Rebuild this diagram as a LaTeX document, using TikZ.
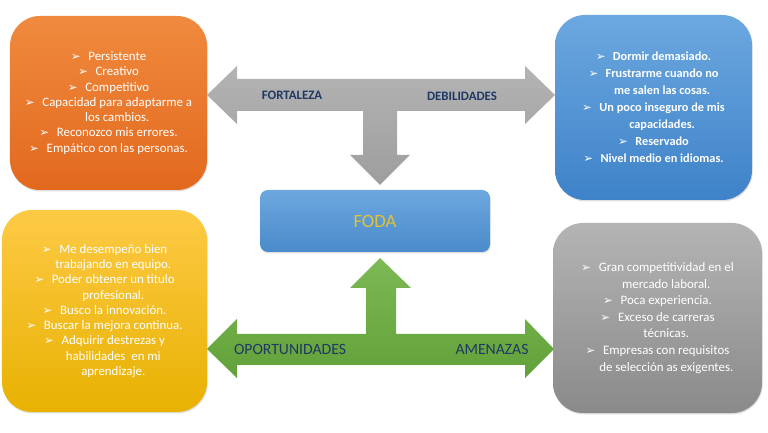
\documentclass[tikz,border=0pt]{standalone}
\usepackage{fontspec}
\setmainfont{Carlito}
\newfontfamily\dejavu{DejaVu Sans}
\usetikzlibrary{shadows}

\definecolor{navy}{HTML}{1F3864}
\definecolor{fodagold}{HTML}{E2C236}
\definecolor{arrowgray}{HTML}{A6A6A6}
\definecolor{greentop}{HTML}{7DB955}
\definecolor{greenbot}{HTML}{62A13A}
\newcommand{\bul}{{\dejavu\fontsize{10}{10}\selectfont ➢}\hspace{0.6em}}
\newcommand{\cont}{\hphantom{\bul}}

\begin{document}
\begin{tikzpicture}[x=0.03cm,y=0.03cm]
	\tikzset{box/.style={rounded corners=0.9cm, inner sep=0pt, text=white, align=center,
		font=\fontsize{11}{13}\selectfont,
		drop shadow={opacity=0.25, shadow xshift=0.6pt, shadow yshift=-1.2pt}}}
	\tikzset{lbl/.style={text=navy, font=\fontsize{10.5}{12}\selectfont}}
	\useasboundingbox (0,0) rectangle (768,433);

	% flecha gris superior
	\shade[top color=arrowgray!85!white, bottom color=arrowgray!95!black]
		(207,338) -- (237,367) -- (237,354) -- (525,354) -- (525,367) -- (555,338)
		-- (525,309) -- (525,322) -- (397,322) -- (397,278) -- (410,278) -- (380,248)
		-- (350,278) -- (363,278) -- (363,322) -- (237,322) -- (237,309) -- cycle;
	% flecha verde inferior
	\shade[top color=greentop, bottom color=greenbot]
		(380,175) -- (411,145) -- (396,145) -- (396,99) -- (525,99) -- (525,114)
		-- (554,84) -- (525,55) -- (525,68) -- (237,68) -- (237,55) -- (207,84)
		-- (237,114) -- (237,99) -- (366,99) -- (366,145) -- (350,145) -- cycle;

	\node[box, top color={rgb,255:red,240;green,138;blue,62}, bottom color={rgb,255:red,226;green,105;blue,30},
		minimum width=5.91cm, minimum height=5.22cm] (fort) at (108.5,330)
		{\bul Persistente\\ \bul Creativo\\ \bul Competitivo\\ \bul Capacidad para adaptarme a\\
		\cont los cambios.\\ \bul Reconozco mis errores.\\ \bul Empático con las personas.};
	\node[box, top color={rgb,255:red,108;green,168;blue,224}, bottom color={rgb,255:red,62;green,130;blue,200},
		minimum width=5.91cm, minimum height=5.55cm, font=\bfseries\fontsize{10.5}{14.5}\selectfont] (debil) at (653.5,325.5)
		{\bul Dormir demasiado.\\ \bul Frustrarme cuando no\\ \cont me salen las cosas.\\
		\bul Un poco inseguro de mis\\ \cont capacidades.\\ \bul Reservado\\ \bul Nivel medio en idiomas.};
	\node[box, top color={rgb,255:red,253;green,202;blue,69}, bottom color={rgb,255:red,232;green,177;blue,2},
		minimum width=6.15cm, minimum height=6.06cm] (oport) at (104.5,122)
		{\bul Me desempeño bien\\ \cont trabajando en equipo.\\ \bul Poder obtener un titulo\\ \cont profesional.\\
		\bul Busco la innovación.\\ \bul Buscar la mejora continua.\\ \bul Adquirir destrezas y\\
		\cont habilidades\ \ en mi\\ \cont aprendizaje.};
	\node[box, top color={rgb,255:red,180;green,180;blue,180}, bottom color={rgb,255:red,138;green,138;blue,138},
		minimum width=6.27cm, minimum height=5.70cm, font=\fontsize{11}{14.2}\selectfont] (amen) at (657.5,115)
		{\bul Gran competitividad en el\\ \cont mercado laboral.\\ \bul Poca experiencia.\\ \bul Exceso de carreras\\
		\cont técnicas.\\ \bul Empresas con requisitos\\ \cont de selección as exigentes.};
	\node[box, rounded corners=0.24cm, top color={rgb,255:red,109;green,167;blue,223}, bottom color={rgb,255:red,74;green,139;blue,203},
		minimum width=6.9cm, minimum height=1.86cm, text=fodagold, font=\fontsize{16}{18}\selectfont] (foda) at (375,212) {FODA};

	\node[lbl, font=\bfseries\fontsize{11}{12}\selectfont] (fortlbl) at (292,338) {FORTALEZA};
	\node[lbl, font=\bfseries\fontsize{11}{12}\selectfont] (debillbl) at (462,337) {DEBILIDADES};
	\node[lbl, font=\fontsize{13.4}{15}\selectfont] (oportlbl) at (290,84) {OPORTUNIDADES};
	\node[lbl, font=\fontsize{13.4}{15}\selectfont] (amenlbl) at (492,84) {AMENAZAS};
\end{tikzpicture}
\end{document}
